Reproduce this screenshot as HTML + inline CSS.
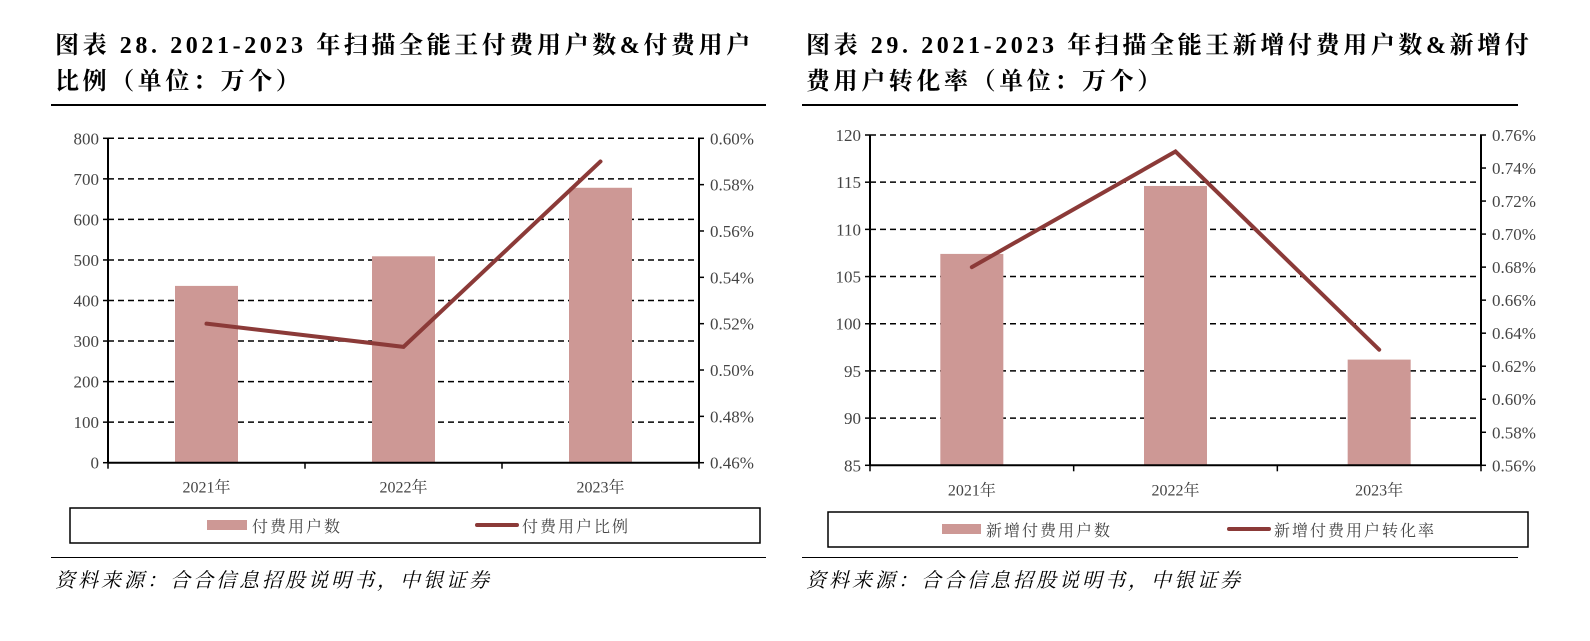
<!DOCTYPE html>
<html><head><meta charset="utf-8">
<style>
html,body{margin:0;padding:0;background:#fff;}
body{width:1590px;height:641px;position:relative;overflow:hidden;font-family:"Liberation Serif","Noto Serif CJK SC",serif;}
.title{position:absolute;font-weight:bold;font-size:24px;line-height:36px;color:#000;letter-spacing:3.6px;white-space:nowrap;font-family:"Liberation Serif","Noto Serif CJK SC",serif;}
.rule{position:absolute;height:2px;background:#000;}
.src{position:absolute;font-style:italic;font-size:20px;letter-spacing:3px;color:#000;white-space:nowrap;}
svg{position:absolute;left:0;top:0;}
</style></head>
<body>
<div class="title" style="left:55px;top:28px;">图表 28. 2021-2023 年扫描全能王付费用户数&amp;付费用户<br>比例（单位：万个）</div>
<div class="rule" style="left:51px;top:104px;width:715px;"></div>
<div class="title" style="left:806px;top:28px;">图表 29. 2021-2023 年扫描全能王新增付费用户数&amp;新增付<br>费用户转化率（单位：万个）</div>
<div class="rule" style="left:802px;top:104px;width:716px;"></div>
<div class="rule" style="left:51px;top:557px;width:715px;height:1px;"></div>
<div class="rule" style="left:802px;top:557px;width:716px;height:1px;"></div>
<div class="src" style="left:55px;top:564px;">资料来源：合合信息招股说明书，中银证券</div>
<div class="src" style="left:806px;top:564px;">资料来源：合合信息招股说明书，中银证券</div>
<svg id="svg" width="1590" height="641"></svg>
<script>
const categoriesL = ['2021年','2022年','2023年'];
const paidUsers = [436, 509, 678];
const paidRatio = [0.520, 0.510, 0.590];
const leftTicksL = [0,100,200,300,400,500,600,700,800];
const rightTicksL = [0.46,0.48,0.50,0.52,0.54,0.56,0.58,0.60];

const categoriesR = ['2021年','2022年','2023年'];
const newPaidUsers = [107.4, 114.6, 96.2];
const newPaidRate = [0.68, 0.75, 0.63];
const leftTicksR = [85,90,95,100,105,110,115,120];
const rightTicksR = [0.56,0.58,0.60,0.62,0.64,0.66,0.68,0.70,0.72,0.74,0.76];

const NS='http://www.w3.org/2000/svg';
const svg=document.getElementById('svg');
function mk(tag,attrs,parent){const e=document.createElementNS(NS,tag);for(const k in attrs)e.setAttribute(k,attrs[k]);(parent||svg).appendChild(e);return e;}

function drawChart(cfg){
  const g=mk('g',{});
  
  
  const {x0,x1,y0,y1}=cfg;
  const lt=cfg.lTicks, rt=cfg.rTicks;
  const yL=v=>y1-(v-lt[0])/(lt[lt.length-1]-lt[0])*(y1-y0);
  const yR=v=>y1-(v-rt[0])/(rt[rt.length-1]-rt[0])*(y1-y0);
  const n=cfg.cats.length, band=(x1-x0)/n;
  const xc=i=>x0+band*(i+0.5);
  lt.forEach((t,i)=>{
    if(i>0){const l=mk('line',{x1:x0,x2:x1,y1:yL(t),y2:yL(t),stroke:'#000','stroke-width':1.5,'stroke-dasharray':'6,4'},g);
      
      }
    const tx=mk('text',{x:x0-9,y:yL(t)+6,'text-anchor':'end','font-size':17,fill:'#444'},g);
    tx.textContent=t;
    
    
    mk('line',{x1:x0-5,x2:x0,y1:yL(t),y2:yL(t),stroke:'#000','stroke-width':1.5},g);
  });
  rt.forEach(t=>{
    mk('line',{x1:x1,x2:x1+5,y1:yR(t),y2:yR(t),stroke:'#000','stroke-width':1.5},g);
    const tx=mk('text',{x:x1+11,y:yR(t)+6,'font-size':17,fill:'#444'},g);
    tx.textContent=t.toFixed(2)+'%';
    
    
  });
  cfg.bars.forEach((v,i)=>{
    const r=mk('rect',{x:xc(i)-cfg.bw/2,y:yL(v),width:cfg.bw,height:y1-yL(v),fill:'#cd9895'},g);
    
    
  });
  mk('line',{x1:x0,x2:x0,y1:y0,y2:y1,stroke:'#000','stroke-width':2},g);
  mk('line',{x1:x1,x2:x1,y1:y0,y2:y1,stroke:'#000','stroke-width':2},g);
  mk('line',{x1:x0,x2:x1,y1:y1,y2:y1,stroke:'#000','stroke-width':2},g);
  for(let i=0;i<=n;i++) mk('line',{x1:x0+band*i,x2:x0+band*i,y1:y1,y2:y1+6,stroke:'#000','stroke-width':1.5},g);
  cfg.cats.forEach((c,i)=>{
    const tx=mk('text',{x:xc(i),y:y1+30,'text-anchor':'middle','font-size':16,fill:'#444'},g);
    tx.textContent=c;
    
    
  });
  const pts=cfg.line.map((v,i)=>xc(i)+','+yR(v)).join(' ');
  const pl=mk('polyline',{points:pts,fill:'none',stroke:'#8b3a38','stroke-width':4,'stroke-linejoin':'miter','stroke-linecap':'round'},g);
  
  
  const L=cfg.leg;
  const box=mk('rect',{x:L.x,y:L.y,width:L.w,height:35,fill:'#fff',stroke:'#000','stroke-width':1.5},g);
  
  
  mk('rect',{x:L.sx,y:L.y+12,width:L.sw,height:10,fill:'#cd9895'},g);
  const t1=mk('text',{x:L.sx+L.sw+5,y:L.y+24,'font-size':16,'letter-spacing':2,fill:'#444'},g);
  t1.textContent=L.t1;
  
  
  mk('line',{x1:L.lx,x2:L.lx+40,y1:L.y+17,y2:L.y+17,stroke:'#8b3a38','stroke-width':4,'stroke-linecap':'round'},g);
  const t2=mk('text',{x:L.lx+45,y:L.y+24,'font-size':16,'letter-spacing':2,fill:'#444'},g);
  t2.textContent=L.t2;
  
  
}

drawChart({name:'left-chart',x0:108,x1:699,y0:138.3,y1:462.7,lTicks:leftTicksL,rTicks:rightTicksL,
  cats:categoriesL,bars:paidUsers,line:paidRatio,bw:63,
  leg:{x:70,y:508,w:690,sx:207,sw:40,t1:'付费用户数',lx:477,t2:'付费用户比例'}});
drawChart({name:'right-chart',x0:870,x1:1481,y0:135,y1:465.3,lTicks:leftTicksR,rTicks:rightTicksR,
  cats:categoriesR,bars:newPaidUsers,line:newPaidRate,bw:63,
  leg:{x:828,y:512,w:700,sx:942,sw:39,t1:'新增付费用户数',lx:1229,t2:'新增付费用户转化率'}});
</script>
</body></html>
